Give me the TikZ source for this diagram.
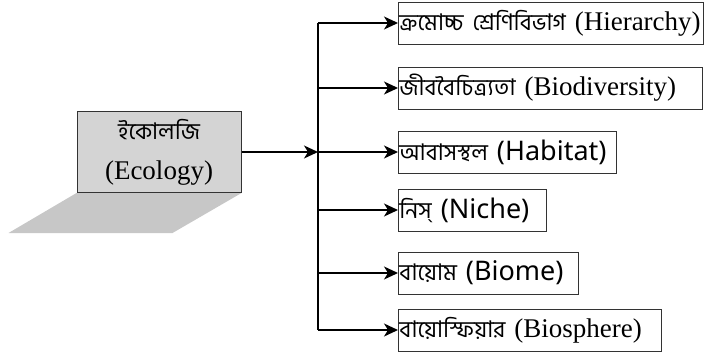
\documentclass[tikz,border=0pt]{standalone}
\usepackage{fontspec}
\setmainfont{Liberation Serif}
\newfontfamily\bnfont[Script=Bengali, Scale=0.85]{Hind Siliguri}
\newfontfamily\latsans{Noto Sans}
\usetikzlibrary{arrows.meta}
\usetikzlibrary{positioning}

\tikzset{
	leaf/.style={draw=black!80, line width=0.9pt, anchor=west, inner xsep=1pt, inner ysep=0pt,
		minimum height=42pt, text width=#1, align=left, font=\fontsize{27}{30}\selectfont,
		execute at begin node={\hyphenpenalty=10000\exhyphenpenalty=10000}},
	conn/.style={line width=1.5pt, -{Stealth[length=14pt, width=13pt, inset=4pt]}},
}

\begin{document}
\begin{tikzpicture}[x=1pt, y=-1pt]
	\useasboundingbox (0,0) rectangle (708,356);
	
	% main box and its shadow
	\node[draw=black!80, line width=1pt, fill=black!17, minimum width=164pt, minimum height=81pt,
		inner sep=0pt, align=center, font=\fontsize{27}{40}\selectfont] (ecology) at (159,152)
		{{\bnfont ইকোলজি}\\(Ecology)};
	\fill[black!22] (ecology.south west) -- (ecology.south east) -- ++(-69,40) -- ++(-164,0) -- cycle;
	
	% the branch boxes
	\node[leaf=303pt] (hier) at (398,23) {{\bnfont ক্রমোচ্চ শ্রেণিবিভাগ} (Hierarchy)};
	\node[leaf=302pt] (biodiv) at (398,88) {{\bnfont জীববৈচিত্র্যতা} (Biodiversity)};
	\node[leaf=216pt] (habitat) at (398,152) {{\bnfont আবাসস্থল} {\latsans (Habitat)}};
	\node[leaf=146pt] (niche) at (398,210) {{\bnfont নিস্} {\latsans (Niche)}};
	\node[leaf=178pt] (biome) at (398,273) {{\bnfont বায়োম} {\latsans (Biome)}};
	\node[leaf=261pt] (biosph) at (398,330) {{\bnfont বায়োস্ফিয়ার} (Biosphere)};
	
	% connectors
	\coordinate (hub) at (318,152);
	\draw[conn] (ecology.east) -- (hub);
	\draw[line width=1.5pt] (hier.west -| hub) -- (biosph.west -| hub);
	\foreach \n in {hier, biodiv, habitat, niche, biome, biosph}
		\draw[conn] (\n.west -| hub) -- (\n.west);
\end{tikzpicture}
\end{document}
